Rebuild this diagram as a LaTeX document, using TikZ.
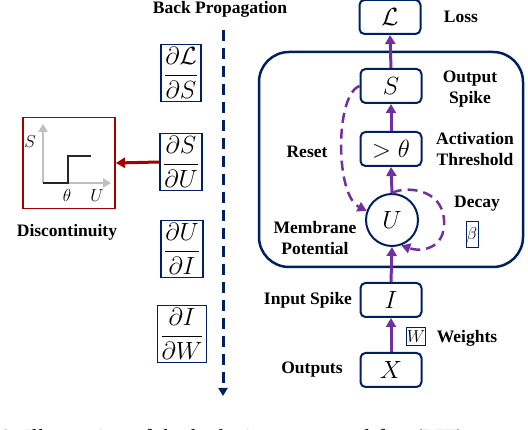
\documentclass[tikz,border=0pt]{standalone}
\usepackage{amsmath}
\usepackage{fontspec}
\setmainfont{Liberation Serif}
\usetikzlibrary{arrows.meta}
\definecolor{navy}{RGB}{0,32,96}
\definecolor{purp}{RGB}{112,48,160}
\definecolor{dred}{RGB}{165,0,0}
\definecolor{lgray}{RGB}{191,191,191}
\begin{document}
\begin{tikzpicture}[x=1pt,y=-1pt,
  box/.style={draw=navy,line width=2pt,rounded corners=5pt,minimum width=61pt,minimum height=34pt,inner sep=0pt,font=\fontsize{25}{28}\selectfont},
  fracbox/.style={draw=navy,line width=1.5pt,inner xsep=3pt,inner ysep=3pt,font=\fontsize{24}{28}\selectfont},
  lbl/.style={font=\fontsize{17.5}{21}\selectfont\bfseries,align=center,inner sep=0pt},
  parr/.style={draw=purp,line width=3pt,-{Triangle[length=9pt,width=10pt]}},
  pdash/.style={draw=purp,line width=2.5pt,dash pattern=on 10pt off 6pt,-{Triangle[length=9pt,width=10pt]}},
  smallbox/.style={draw=navy,line width=1pt,inner sep=0.5pt}
]
\clip (0,0) rectangle (528,430);
\useasboundingbox (0,0) rectangle (528,430);
\fill[white] (0,0) rectangle (528,430);

% back propagation
\node[lbl] (bptxt) at (220,9) {Back Propagation};
\coordinate (bp1) at (223,30);
\coordinate (bp2) at (223,396);
\draw[navy,line width=3pt,dash pattern=on 11pt off 7pt,-{Triangle[length=8pt,width=9pt]}] (bp1) -- (bp2);

% fraction boxes
\node[fracbox] (f1) at (181,73) {$\dfrac{\partial\mathcal{L}}{\partial S}$};
\node[fracbox] (f2) at (181,162) {$\dfrac{\partial S}{\partial U}$};
\node[fracbox] (f3) at (182,249) {$\dfrac{\partial U}{\partial I}$};
\node[fracbox] (f4) at (182,334) {$\dfrac{\partial I}{\partial W}$};

% discontinuity
\node[draw=dred,line width=1.8pt,minimum width=92pt,minimum height=91pt,inner sep=0pt] (disc) at (69,163) {};
\coordinate (o) at (43,183);
\coordinate (yax) at (43,124);
\coordinate (xax) at (111,183);
\draw[lgray,line width=2.5pt,-{Triangle[length=8pt,width=9pt]}] (o) -- (yax);
\draw[lgray,line width=2.5pt,-{Triangle[length=8pt,width=9pt]}] (o) -- (xax);
\draw[black!85,line width=2.5pt] (o) -- (68,183) -- (68,156) -- (91,156);
\node[font=\fontsize{17}{19}\selectfont] (sl) at (30,142) {$S$};
\node[font=\fontsize{17}{19}\selectfont] (tl) at (67,196) {$\theta$};
\node[font=\fontsize{17}{19}\selectfont] (ul) at (97,196) {$U$};
\node[lbl] (disctxt) at (67,232) {Discontinuity};
\draw[dred,line width=3pt,-{Triangle[length=9pt,width=10pt]}] (f2.west) -- (disc.east);

% LIF neuron
\draw[navy,line width=2.5pt,rounded corners=30pt] (259,52) rectangle (523,267);
\node[box] (L) at (390,17) {$\mathcal{L}$};
\node[box] (S) at (391,86) {$S$};
\node[box] (T) at (391,149) {$>\theta$};
\node[draw=navy,line width=2pt,circle,minimum size=52pt,inner sep=0pt,font=\fontsize{25}{28}\selectfont] (U) at (392,220) {$U$};
\node[box] (I) at (391,300) {$I$};
\node[box] (X) at (391,370) {$X$};

\draw[parr] (S.north) -- (L.south);
\draw[parr] (T.north) -- (S.south);
\draw[parr] (U.north) -- (T.south);
\draw[parr] (I.north) -- (U.south);
\draw[parr] (X.north) -- (I.south);

\draw[pdash] (S.west) .. controls (335,95) and (335,195) .. (U.160);
\draw[pdash] (U.north) .. controls (405,186) and (442,188) .. (444,220) .. controls (446,250) and (420,252) .. (U.-70);

\node[smallbox,minimum width=12pt,minimum height=26pt,font=\fontsize{18}{20}\selectfont] (beta) at (472,235) {$\beta$};
\node[smallbox,minimum width=14pt,minimum height=18pt,font=\fontsize{16}{18}\selectfont] (W) at (416,337) {$W$};

\node[lbl] (loss) at (461,17) {Loss};
\node[lbl] (outsp) at (470,89) {Output\\Spike};
\node[lbl] (act) at (475,149) {Activation\\Threshold};
\node[lbl] (reset) at (307,152) {Reset};
\node[lbl] (decay) at (477,204) {Decay};
\node[lbl] (mem) at (315,238) {Membrane\\Potential};
\node[lbl] (insp) at (308,300) {Input Spike};
\node[lbl] (wts) at (467,338) {Weights};
\node[lbl] (outs) at (312,370) {Outputs};

\node[anchor=base west,inner sep=0pt,font=\fontsize{23}{25}\selectfont\itshape] (cap) at (-1,446) {2.\ Illustration of the leaky integrate-and-fire (LIF)};
\end{tikzpicture}
\end{document}
